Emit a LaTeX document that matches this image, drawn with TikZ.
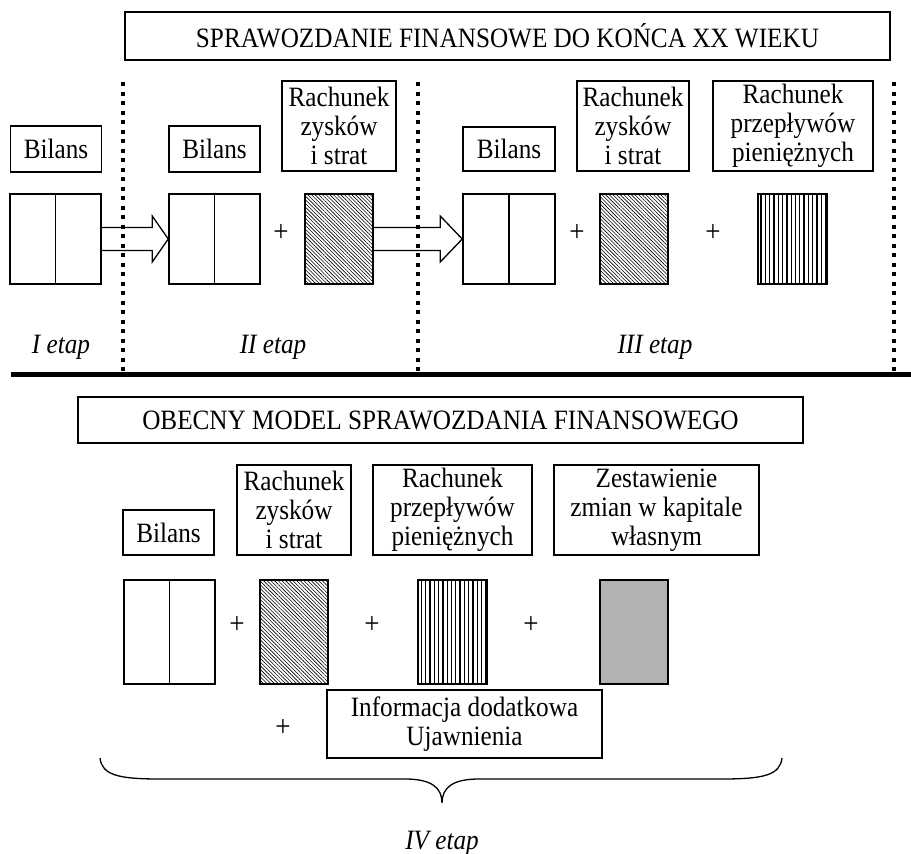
\documentclass[tikz,border=0pt]{standalone}
\usepackage{fontspec}
\setmainfont{Liberation Serif}[FakeStretch=0.9]
\usetikzlibrary{patterns.meta,calc}

\begin{document}
\begin{tikzpicture}[x=1pt,y=-1pt,
  every node/.style={font=\fontsize{28}{29}\selectfont},
  box/.style={draw,line width=1.3pt,inner sep=0pt,align=center},
  bil/.style={draw,line width=1.5pt,minimum width=91pt,inner sep=0pt},
  zis/.style={draw,line width=1.5pt,minimum width=68pt,inner sep=0pt,
    pattern={Lines[angle=-45,distance=2.6pt,line width=0.6pt]}},
  przep/.style={draw,line width=1.5pt,minimum width=69pt,inner sep=0pt,
    pattern={Lines[angle=90,distance=4.3pt,line width=1.3pt]}},
  kap/.style={draw,line width=1.5pt,minimum width=68pt,inner sep=0pt,fill=black!30},
  plus/.style={font=\fontsize{30}{30}\selectfont,inner sep=0pt},
  etap/.style={font=\fontsize{28}{29}\selectfont\itshape},
  kropki/.style={line width=4pt,dash pattern=on 4pt off 5.5pt},
  strz/.style={line width=1.3pt,line join=miter}]
\useasboundingbox (0,0) rectangle (911,854);

% do konca XX wieku
\node[box,minimum width=765pt,minimum height=48pt] (tyt1) at (507.5,36) {SPRAWOZDANIE FINANSOWE DO KOŃCA XX WIEKU};

\node[box,minimum width=91pt,minimum height=46pt] (bil1) at (56,149) {Bilans};
\node[box,minimum width=91pt,minimum height=46pt] (bil2) at (214.5,149) {Bilans};
\node[box,minimum width=114pt,minimum height=90pt] (zis2) at (339,126) {Rachunek\\zysków\\i strat};
\node[box,minimum width=92pt,minimum height=44pt] (bil3) at (509,149) {Bilans};
\node[box,minimum width=112pt,minimum height=90pt] (zis3) at (633,126) {Rachunek\\zysków\\i strat};
\node[box,minimum width=160pt,minimum height=90pt] (prz3) at (793,126) {Rachunek\\przepływów\\pieniężnych};

\node[bil,minimum height=90pt] (bilR1) at (55.5,239) {};
\node[bil,minimum height=90pt] (bilR2) at (214.5,239) {};
\node[zis,minimum height=90pt] (zisR2) at (339,239) {};
\node[bil,minimum height=90pt,minimum width=92pt] (bilR3) at (509,239) {};
\node[zis,minimum height=90pt] (zisR3) at (634,239) {};
\node[przep,minimum height=90pt] (przR3) at (792.5,239) {};
\foreach \b in {bilR1,bilR2,bilR3}
  \draw[line width=1.5pt] (\b.north) -- (\b.south);

\node[plus] (p1) at (281,233) {+};
\node[plus] (p2) at (577,233) {+};
\node[plus] (p3) at (713,233) {+};

\draw[strz] ($(bilR1.east)+(0,-11.5)$) -- ($(bilR2.west)+(-16,-11.5)$) -- ++(0,-11.5)
  -- (bilR2.west) -- ($(bilR2.west)+(-16,23)$) -- ++(0,-11.5) -- ($(bilR1.east)+(0,11.5)$);
\draw[strz] ($(zisR2.east)+(0,-11.5)$) -- ($(bilR3.west)+(-22,-11.5)$) -- ++(0,-11.5)
  -- (bilR3.west) -- ($(bilR3.west)+(-22,23)$) -- ++(0,-11.5) -- ($(zisR2.east)+(0,11.5)$);

\node[etap] (e1) at (61,347) {I etap};
\node[etap] (e2) at (273,347) {II etap};
\node[etap] (e3) at (655,347) {III etap};

\foreach \x in {123,418,894}
  \draw[kropki] (\x,82) -- (\x,372);
\draw[line width=5pt] (11,374) -- (911,374);

% obecny model
\node[box,minimum width=725pt,minimum height=46pt] (tyt2) at (440.5,420) {OBECNY MODEL SPRAWOZDANIA FINANSOWEGO};

\node[box,minimum width=91pt,minimum height=45pt] (bil4) at (168.5,532.5) {Bilans};
\node[box,minimum width=114pt,minimum height=90pt] (zis4) at (294,510) {Rachunek\\zysków\\i strat};
\node[box,minimum width=159pt,minimum height=90pt] (prz4) at (452.5,510) {Rachunek\\przepływów\\pieniężnych};
\node[box,minimum width=205pt,minimum height=90pt] (kap4) at (656.5,510) {Zestawienie\\zmian w kapitale\\własnym};

\node[bil,minimum height=104pt] (bilR4) at (169.5,632) {};
\draw[line width=1.5pt] (bilR4.north) -- (bilR4.south);
\node[zis,minimum height=104pt] (zisR4) at (294,632) {};
\node[przep,minimum height=104pt] (przR4) at (452.5,632) {};
\node[kap,minimum height=104pt] (kapR4) at (634,632) {};

\node[plus] (p4) at (237,625) {+};
\node[plus] (p5) at (372,625) {+};
\node[plus] (p6) at (531,625) {+};

\node[plus] (p7) at (283,728) {+};
\node[box,minimum width=275pt,minimum height=68pt] (inf) at (464.5,724) {Informacja dodatkowa\\Ujawnienia};

\draw[line width=1.3pt] (100,758) .. controls (102,775) and (118,779) .. (160,779)
  -- (405,779) .. controls (432,779) and (442,788) .. (442,803)
  .. controls (442,788) and (452,779) .. (479,779) -- (722,779)
  .. controls (764,779) and (780,775) .. (782,758);
\node[etap] (e4) at (442,843) {IV etap};
\end{tikzpicture}
\end{document}
